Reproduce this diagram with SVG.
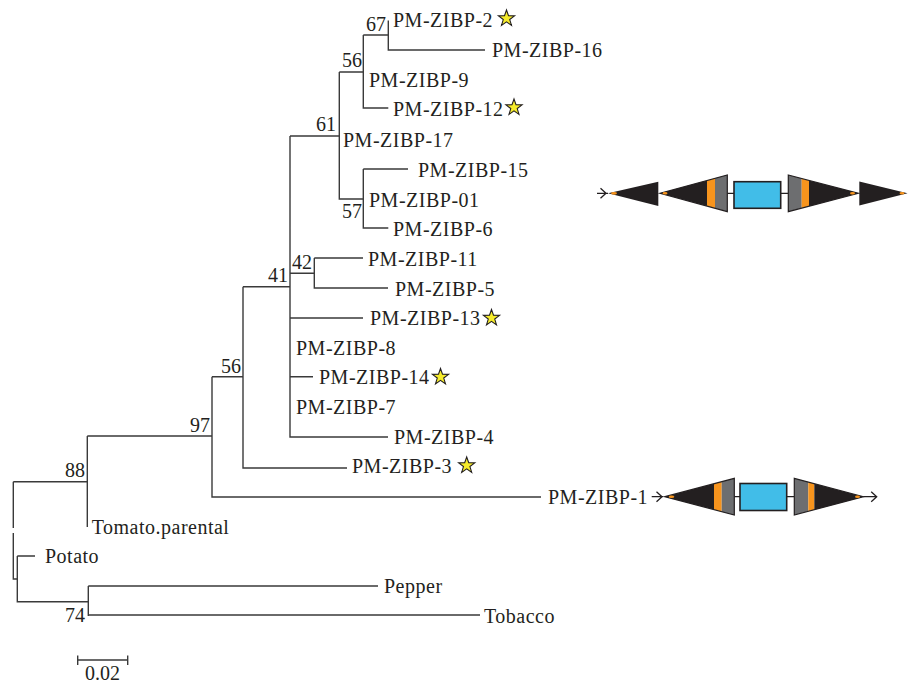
<svg xmlns="http://www.w3.org/2000/svg" xmlns:xlink="http://www.w3.org/1999/xlink" width="908" height="684" viewBox="0 0 908 684">
<style>
text{font-family:"Liberation Serif","Times New Roman",serif;font-size:20px;fill:#231f20}
.lab{letter-spacing:0.5px}
.num{text-anchor:end}
.br{fill:none;stroke:#3a3a3a;stroke-width:1.4}
.blk{fill:#231f20}
.org{fill:#f7941d}
.gry{fill:#6d6e70}
.out{fill:none;stroke:#231f20;stroke-width:1.2;stroke-linejoin:miter}
.blue{fill:#41bde8;stroke:#231f20;stroke-width:1.6}
.ln{fill:none;stroke:#231f20;stroke-width:1.3}
.arr{fill:none;stroke:#231f20;stroke-width:1.3}
.star{fill:#f6ec2b;stroke:#231f20;stroke-width:1.1;stroke-linejoin:miter}
</style>
<defs>
<polygon id="star" class="star" points="0,-8.5 2,-2.75 8.08,-2.63 3.23,1.05 5,6.88 0,3.4 -5,6.88 -3.23,1.05 -8.08,-2.63 -2,-2.75"/>
</defs>
<g id="connectors">
<path class="br" d="M388.3,20.5 V50 H485 M363.3,35 H388.3 M363.3,35 V108 H388.3 M339.3,72 H363.3 M339.3,72 V199 H363.3 M363.3,169 V228 H388.3 M363.3,169 H408 M290,136 H339.3 M290,136 V437 H388 M290,273.3 H314.3 M314.3,258 V288 H388 M314.3,258 H363 M290,318 H363 M290,376.7 H313 M243,286.7 H290 M243,286.7 V468 H347 M212,376.7 H243 M212,376.7 V497 H541 M87.3,436 H212 M87.3,436 V527 M13.3,481.7 H87.3 M13.3,481.7 V528 M13.3,533 V579 H17.3 M17.3,556 V601.7 H88.3 M17.3,556 H35 M88.3,586 V616 M88.3,586 H378 M88.3,615 H480"/>
</g>
<g id="clade-labels">
<text class="num" x="386" y="31">67</text>
<text class="num" x="362" y="67">56</text>
<text class="num" x="336" y="131">61</text>
<text class="num" x="362" y="218">57</text>
<text x="292" y="269">42</text>
<text class="num" x="288" y="282">41</text>
<text class="num" x="241" y="373">56</text>
<text class="num" x="210" y="432">97</text>
<text class="num" x="85" y="477">88</text>
<text class="num" x="85" y="622">74</text>
</g>
<g id="PM-ZIBP-2"><text class="lab" x="393" y="26.7">PM-ZIBP-2</text><use xlink:href="#star" x="506.5" y="18.5"/></g>
<g id="PM-ZIBP-16"><text class="lab" x="492" y="56.7">PM-ZIBP-16</text></g>
<g id="PM-ZIBP-9"><text class="lab" x="369" y="87">PM-ZIBP-9</text></g>
<g id="PM-ZIBP-12"><text class="lab" x="393" y="115.7">PM-ZIBP-12</text><use xlink:href="#star" x="514" y="107.5"/></g>
<g id="PM-ZIBP-17"><text class="lab" x="343" y="146.7">PM-ZIBP-17</text></g>
<g id="PM-ZIBP-15"><text class="lab" x="418" y="176.7">PM-ZIBP-15</text></g>
<g id="PM-ZIBP-01"><text class="lab" x="369" y="206.7">PM-ZIBP-01</text></g>
<g id="PM-ZIBP-6"><text class="lab" x="393" y="235.7">PM-ZIBP-6</text></g>
<g id="PM-ZIBP-11"><text class="lab" x="368" y="265.7">PM-ZIBP-11</text></g>
<g id="PM-ZIBP-5"><text class="lab" x="395" y="295.7">PM-ZIBP-5</text></g>
<g id="PM-ZIBP-13"><text class="lab" x="370" y="325">PM-ZIBP-13</text><use xlink:href="#star" x="491.5" y="318"/></g>
<g id="PM-ZIBP-8"><text class="lab" x="296" y="355">PM-ZIBP-8</text></g>
<g id="PM-ZIBP-14"><text class="lab" x="319" y="384">PM-ZIBP-14</text><use xlink:href="#star" x="440.5" y="377"/></g>
<g id="PM-ZIBP-7"><text class="lab" x="296" y="414">PM-ZIBP-7</text></g>
<g id="PM-ZIBP-4"><text class="lab" x="394" y="444">PM-ZIBP-4</text></g>
<g id="PM-ZIBP-3"><text class="lab" x="352" y="473.3">PM-ZIBP-3</text><use xlink:href="#star" x="466.7" y="465.5"/></g>
<g id="PM-ZIBP-1"><text class="lab" x="548" y="504">PM-ZIBP-1</text></g>
<g id="Tomato-parental"><text class="lab" x="91.7" y="534">Tomato.parental</text></g>
<g id="Potato"><text class="lab" x="45" y="563.3">Potato</text></g>
<g id="Pepper"><text class="lab" x="384" y="593.3">Pepper</text></g>
<g id="Tobacco"><text class="lab" x="484" y="623">Tobacco</text></g>
<g id="scale-bar">
<path class="br" d="M77.7,660 H127.7 M77.7,655.5 V665 M127.7,655.5 V665"/>
<text x="85" y="680">0.02</text>
</g>
<g id="cassette-top">
<path class="arr" d="M597,193.3 H608 M600.5,188.3 L606,193.3 L600.5,198.3"/>
<polygon class="blk" points="608,193.3 658.3,181.7 658.3,206"/>
<ellipse class="org" cx="614" cy="193.3" rx="3" ry="1.4"/>
<polygon class="blk" points="660,193.3 707,180.5 707,206.1"/>
<polygon class="org" points="707,180.5 715,178.3 715,208.3 707,206.1"/>
<polygon class="gry" points="715,178.3 727.3,175 727.3,211.6 715,208.3"/>
<polygon class="out" points="660,193.3 727.3,175 727.3,211.6"/>
<ellipse class="org" cx="665" cy="193.3" rx="2.5" ry="1.3"/>
<path class="ln" d="M727.3,193.3 H734 M780.7,193.3 H788.3"/>
<rect class="blue" x="734" y="181.7" width="46.7" height="26.6"/>
<polygon class="gry" points="788.3,175 801.7,178.5 801.7,208.1 788.3,211.6"/>
<polygon class="org" points="801.7,178.5 809,180.4 809,206.2 801.7,208.1"/>
<polygon class="blk" points="809,180.4 858.3,193.3 809,206.2"/>
<polygon class="out" points="788.3,175 858.3,193.3 788.3,211.6"/>
<ellipse class="org" cx="852.5" cy="193.3" rx="2.5" ry="1.3"/>
<polygon class="blk" points="859.3,181.5 907.5,193.3 859.3,205.5"/>
<ellipse class="org" cx="902" cy="193.3" rx="2.5" ry="1.3"/>
</g>
<g id="cassette-bottom">
<path class="arr" d="M651.7,496.7 H663.3 M656.5,491.7 L662,496.7 L656.5,501.7"/>
<polygon class="blk" points="665,496.7 714,483.8 714,509.6"/>
<polygon class="org" points="714,483.8 721.7,481.7 721.7,511.7 714,509.6"/>
<polygon class="gry" points="721.7,481.7 734.3,478.4 734.3,515 721.7,511.7"/>
<polygon class="out" points="665,496.7 734.3,478.4 734.3,515"/>
<ellipse class="org" cx="671.5" cy="496.7" rx="2.8" ry="1.3"/>
<path class="ln" d="M734.3,496.7 H740 M786.7,496.7 H794.3"/>
<rect class="blue" x="740" y="483.5" width="46.7" height="27"/>
<polygon class="gry" points="794.3,478.4 808.3,482.1 808.3,511.3 794.3,515"/>
<polygon class="org" points="808.3,482.1 814.3,483.7 814.3,509.7 808.3,511.3"/>
<polygon class="blk" points="814.3,483.7 863.3,496.7 814.3,509.7"/>
<polygon class="out" points="794.3,478.4 863.3,496.7 794.3,515"/>
<ellipse class="org" cx="857.5" cy="496.7" rx="2.5" ry="1.3"/>
<path class="arr" d="M863.3,496.7 H876.7 M871.2,491.7 L876.7,496.7 L871.2,501.7"/>
</g>
</svg>
